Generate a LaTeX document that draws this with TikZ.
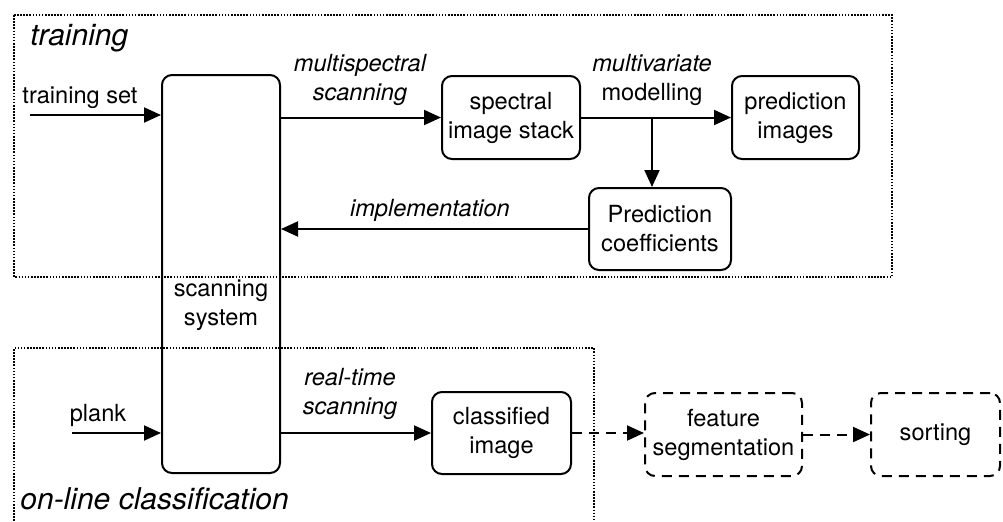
\documentclass[tikz,border=0pt]{standalone}
\usepackage{fontspec}
\setmainfont{TeX Gyre Heros}
\usetikzlibrary{arrows.meta}
\begin{document}
\begin{tikzpicture}[x=0.5pt,y=-0.5pt,
  font=\fontsize{11.8pt}{14.5pt}\selectfont,
  box/.style={draw,line width=1pt,rounded corners=5pt,align=center,inner sep=0pt},
  dbox/.style={box,dash pattern=on 5pt off 3.5pt},
  frame/.style={line width=1.1pt,dash pattern=on 0.8pt off 0.75pt},
  arr/.style={line width=1pt,-{Triangle[length=8.5pt,width=7.5pt]}},
  darr/.style={arr,dash pattern=on 5pt off 3.5pt},
  lbl/.style={inner sep=0pt,align=center}]
\useasboundingbox (0,0) rectangle (1003,521);
% frames
\draw[frame] (14,15) rectangle (892,277);
\draw[frame] (14,521) -- (14,348) -- (594,348) -- (594,521);
\node[lbl,anchor=west,font=\fontsize{15pt}{18pt}\selectfont\itshape] (ttrain) at (30,38) {training};
\node[lbl,anchor=west,font=\fontsize{15pt}{18pt}\selectfont\itshape] (tonline) at (20,499) {on-line classification};
% boxes
\node[box,minimum width=59pt,minimum height=199pt] (scan) at (221,274) {};
\node[lbl] (scantxt) at (221,305) {scanning\\system};
\node[box,minimum width=69pt,minimum height=41.5pt] (spec) at (511,117.5) {spectral\\image stack};
\node[box,minimum width=63.5pt,minimum height=41.5pt] (pimg) at (795.5,117.5) {prediction\\images};
\node[box,minimum width=71pt,minimum height=41pt] (coef) at (660,229) {Prediction\\coefficients};
\node[box,minimum width=69.5pt,minimum height=41pt] (cls) at (501.5,433) {classified\\image};
\node[dbox,minimum width=78.5pt,minimum height=41.5pt] (feat) at (723.5,434.5) {feature\\segmentation};
\node[dbox,minimum width=64.5pt,minimum height=41.5pt] (sort) at (935.5,434.5) {sorting};
% coordinates
\coordinate (tsin) at (30,115);
\coordinate (plin) at (72,433);
\coordinate (br) at (652,117.5);
% arrows
\draw[arr] (tsin) -- (tsin -| scan.west);
\draw[arr] (spec.west -| scan.east) -- (spec.west);
\draw[arr] (spec.east) -- (pimg.west);
\draw[arr] (br) -- (br |- coef.north);
\draw[arr] (coef.west) -- (coef.west -| scan.east);
\draw[arr] (plin) -- (plin -| scan.west);
\draw[arr] (cls.west -| scan.east) -- (cls.west);
\draw[darr] (cls.east) -- (cls.east -| feat.west);
\draw[darr] (feat.east) -- (sort.west);
% labels
\node[lbl] (lts) at (80,98) {training set};
\node[lbl,font=\fontsize{11.8pt}{14.5pt}\selectfont\itshape] (lms) at (360,80) {multispectral\\scanning};
\node[lbl] (lmv) at (652,80) {\itshape multivariate\\modelling};
\node[lbl,font=\fontsize{11.8pt}{14.5pt}\selectfont\itshape] (limp) at (430,210) {implementation};
\node[lbl] (lpl) at (98,415) {plank};
\node[lbl,font=\fontsize{11.8pt}{14.5pt}\selectfont\itshape] (lrt) at (350,394) {real-time\\scanning};
\end{tikzpicture}
\end{document}
